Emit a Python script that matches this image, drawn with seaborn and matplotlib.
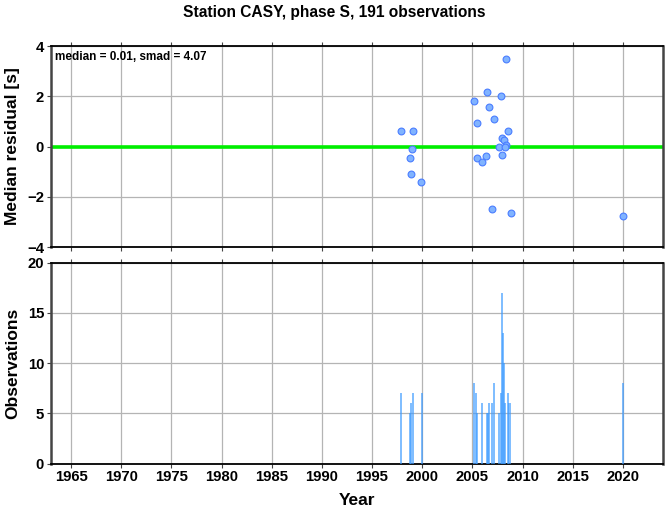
import numpy as np
import pandas as pd
import matplotlib
matplotlib.use("Agg")
import matplotlib.pyplot as plt
import seaborn as sns

# median residual per event (decimal year, seconds)
res_year = [2008.4, 2006.5, 2007.85, 2005.15, 2006.65, 2007.2, 2005.5, 1997.85,
            1999.1, 2008.6, 2008.0, 2008.2, 2008.4, 2007.7, 2008.25, 1999.0,
            2007.95, 2006.4, 1998.75, 2005.45, 2006.0, 1998.9, 1999.9, 2007.0,
            2008.8, 2020.05]
res_val = [3.48, 2.17, 2.02, 1.82, 1.56, 1.08, 0.95, 0.63,
           0.60, 0.61, 0.33, 0.24, 0.07, -0.01, -0.03, -0.09,
           -0.33, -0.37, -0.46, -0.47, -0.61, -1.09, -1.43, -2.49,
           -2.63, -2.76]

# observations per event
obs_year = [1997.85, 1998.8, 1998.9, 1999.1, 1999.95,
            2005.2, 2005.4, 2005.5, 2006.0, 2006.45, 2006.55, 2006.65,
            2007.0, 2007.2, 2007.7, 2007.85, 2007.95, 2008.05, 2008.2,
            2008.3, 2008.55, 2008.7, 2020.05]
obs_count = [7, 5, 6, 7, 7,
             8, 7, 5, 6, 5, 5, 6,
             6, 8, 5, 7, 17, 13, 10,
             6, 7, 6, 8]

median, smad, nobs = 0.01, 4.07, 191

df_res = pd.DataFrame({"year": res_year, "res": res_val})

sns.set_style("white")
plt.rcParams["font.family"] = ["Liberation Sans", "DejaVu Sans"]
plt.rcParams["font.weight"] = "bold"
plt.rcParams["text.color"] = "black"
plt.rcParams["axes.labelcolor"] = "black"
plt.rcParams["xtick.color"] = "black"
plt.rcParams["ytick.color"] = "black"

fig = plt.figure(figsize=(6.69, 5.11), dpi=100)
ax1 = fig.add_axes([51 / 669, 1 - 247 / 511, 612 / 669, 201 / 511])
ax2 = fig.add_axes([51 / 669, 1 - 463.5 / 511, 612 / 669, 201 / 511])

for ax in (ax1, ax2):
    ax.set_xlim(1963, 2024)
    ax.set_xticks(np.arange(1965, 2021, 5))
    ax.grid(True, color="#b4b4b4", lw=0.9)
    ax.set_axisbelow(True)
    ax.tick_params(axis="both", which="both", direction="out", length=3,
                   width=0.8, color="#444444", labelcolor="black",
                   labelsize=10.7, pad=2,
                   top=True, bottom=True, left=True, right=False)
    for s in ("top", "bottom"):
        ax.spines[s].set_color("black")
        ax.spines[s].set_linewidth(1.3)
    for s in ("left", "right"):
        ax.spines[s].set_color("#444444")
        ax.spines[s].set_linewidth(1.8)

# top panel
ax1.axhline(0, color="#00ee00", lw=2.6, zorder=2)
sns.scatterplot(data=df_res, x="year", y="res", ax=ax1, s=24,
                color="#80b3ff", edgecolor="#4a7dff", linewidth=0.8, zorder=3)
ax1.set_ylim(-4, 4)
ax1.set_yticks([-4, -2, 0, 2, 4])
ax1.set_xticklabels([])
ax1.set_xlabel("")
ax1.set_ylabel("Median residual [s]", fontsize=12.5, fontweight="bold",
               labelpad=5)
ax1.text(0.006, 0.975, f"median = {median:.2f}, smad = {smad:.2f}",
         transform=ax1.transAxes, ha="left", va="top", fontsize=8.5,
         fontweight="bold")
fig.text(0.5, 1 - 13 / 511, f"Station CASY, phase S, {nobs} observations",
         ha="center", va="center", fontsize=11.2, fontweight="bold")

# bottom panel
ax2.bar(obs_year, obs_count, width=0.2, color="#3d9bff", alpha=0.65,
        linewidth=0, zorder=3)
ax2.set_ylim(0, 20)
ax2.set_yticks([0, 5, 10, 15, 20])
ax2.set_xlabel("Year", fontsize=12.5, fontweight="bold", labelpad=6)
ax2.set_ylabel("Observations", fontsize=12.5, fontweight="bold", labelpad=5)
for lab in ax2.get_xticklabels() + ax2.get_yticklabels() + ax1.get_yticklabels():
    lab.set_fontweight("bold")

fig.savefig("out.png", dpi=100)
